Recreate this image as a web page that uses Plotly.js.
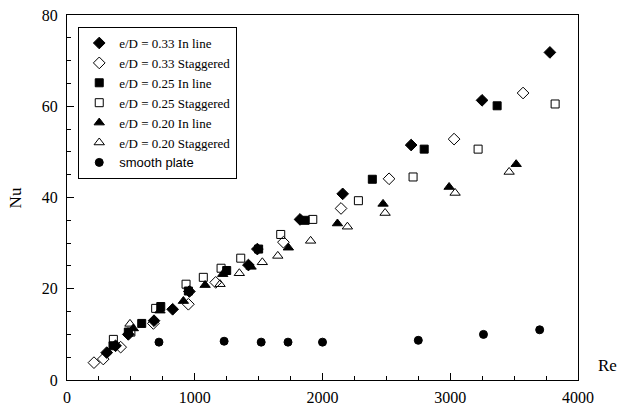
<!DOCTYPE html>
<html>
<head>
<meta charset="utf-8">
<script src="https://cdn.plot.ly/plotly-3.0.1.min.js"></script>
<style>html,body{margin:0;padding:0;background:#fff;}#chart{width:621px;height:408px;}</style>
</head>
<body>
<div id="chart"></div>
<script>
// Series data (Re, Nu)
const re33In  = [311, 380, 480, 681, 827, 958, 1420, 1490, 1824, 2158, 2694, 3249, 3780];
const nu33In  = [6.0, 7.5, 10.0, 13.0, 15.5, 19.4, 25.2, 28.7, 35.2, 40.8, 51.5, 61.3, 71.8];

const re33St  = [211, 284, 420, 676, 950, 1164, 1694, 2145, 2521, 3030, 3570];
const nu33St  = [3.8, 4.6, 7.2, 12.4, 16.6, 21.4, 30.2, 37.6, 44.1, 52.8, 62.9];

const re25In  = [360, 480, 585, 734, 950, 1250, 1500, 1864, 2390, 2796, 3367];
const nu25In  = [7.5, 10.5, 12.4, 16.1, 19.5, 24.0, 28.7, 35.0, 44.0, 50.6, 60.1];

const re25St  = [363, 500, 694, 932, 1067, 1206, 1360, 1673, 1924, 2281, 2709, 3218, 3821];
const nu25St  = [8.9, 10.5, 15.7, 21.0, 22.5, 24.5, 26.7, 31.9, 35.2, 39.3, 44.5, 50.6, 60.5];

const re20In  = [519, 728, 911, 1081, 1219, 1441, 1733, 2117, 2474, 2991, 3516];
const nu20In  = [11.3, 15.2, 17.3, 20.8, 23.2, 24.8, 29.0, 34.3, 38.6, 42.3, 47.3];

const re20St  = [493, 1198, 1349, 1529, 1650, 1907, 2195, 2490, 3038, 3461];
const nu20St  = [12.3, 21.0, 23.4, 25.8, 27.2, 30.5, 33.6, 36.6, 41.0, 45.6];

const reSmooth = [720, 1230, 1520, 1730, 2000, 2750, 3260, 3700];
const nuSmooth = [8.3, 8.5, 8.3, 8.3, 8.3, 8.7, 10.0, 11.0];

const seriesNames = [
  'e/D = 0.33 In line', 'e/D = 0.33 Staggered',
  'e/D = 0.25 In line', 'e/D = 0.25 Staggered',
  'e/D = 0.20 In line', 'e/D = 0.20 Staggered',
  'smooth plate'
];
const xTickVals = [0, 1000, 2000, 3000, 4000];
const yTickVals = [0, 20, 40, 60, 80];

const serif = 'Liberation Serif';

function mk(x, y, name, symbol, size) {
  return {
    x: x, y: y, name: name, type: 'scatter', mode: 'markers',
    marker: { symbol: symbol, size: size, color: 'black',
              line: { color: 'black', width: 1 } },
    cliponaxis: false
  };
}

const data = [
  mk(re33In, nu33In, seriesNames[0], 'diamond', 9),
  mk(re33St, nu33St, seriesNames[1], 'diamond-open', 9),
  mk(re25In, nu25In, seriesNames[2], 'square', 8),
  mk(re25St, nu25St, seriesNames[3], 'square-open', 8),
  mk(re20In, nu20In, seriesNames[4], 'triangle-up', 9),
  mk(re20St, nu20St, seriesNames[5], 'triangle-up-open', 9),
  mk(reSmooth, nuSmooth, '<span style="font-family:Liberation Sans">' + seriesNames[6] + '</span>', 'circle', 8)
];

const layout = {
  width: 621, height: 408,
  margin: { l: 67, r: 43, t: 15, b: 28 },
  paper_bgcolor: 'white', plot_bgcolor: 'white',
  font: { family: serif, size: 16, color: 'black' },
  showlegend: true,
  legend: {
    x: 0.022, y: 0.967, xanchor: 'left', yanchor: 'top',
    bgcolor: 'white', bordercolor: 'black', borderwidth: 1,
    font: { family: serif, size: 13, color: 'black' },
    tracegroupgap: 0
  },
  xaxis: {
    range: [0, 4000], tickvals: xTickVals, ticktext: xTickVals.map(String),
    ticks: 'inside', ticklen: 7, tickwidth: 1, tickcolor: 'black',
    minor: { dtick: 250, tick0: 0, ticks: 'inside', ticklen: 4, tickcolor: 'black', tickwidth: 1 },
    showline: true, linecolor: 'black', linewidth: 1, mirror: true,
    showgrid: false, zeroline: false, ticklabelstandoff: 3,
    tickfont: { family: serif, size: 16 }
  },
  yaxis: {
    range: [0, 80], tickvals: yTickVals, ticktext: yTickVals.map(String),
    ticks: 'inside', ticklen: 7, tickwidth: 1, tickcolor: 'black',
    minor: { dtick: 5, tick0: 0, ticks: 'inside', ticklen: 4, tickcolor: 'black', tickwidth: 1 },
    showline: true, linecolor: 'black', linewidth: 1, mirror: true,
    showgrid: false, zeroline: false, ticklabelstandoff: 5,
    tickfont: { family: serif, size: 16 }
  },
  annotations: [
    { text: 'Re', xref: 'paper', yref: 'paper', x: 1.035, y: 0.04, xanchor: 'left', yanchor: 'middle',
      showarrow: false, font: { family: serif, size: 17, color: 'black' } },
    { text: 'Nu', xref: 'paper', yref: 'paper', x: -0.1, y: 0.5, xanchor: 'center', yanchor: 'middle',
      textangle: -90, showarrow: false, font: { family: serif, size: 17, color: 'black' } }
  ]
};

Plotly.newPlot('chart', data, layout, { displayModeBar: false, staticPlot: true });
</script>
</body>
</html>
